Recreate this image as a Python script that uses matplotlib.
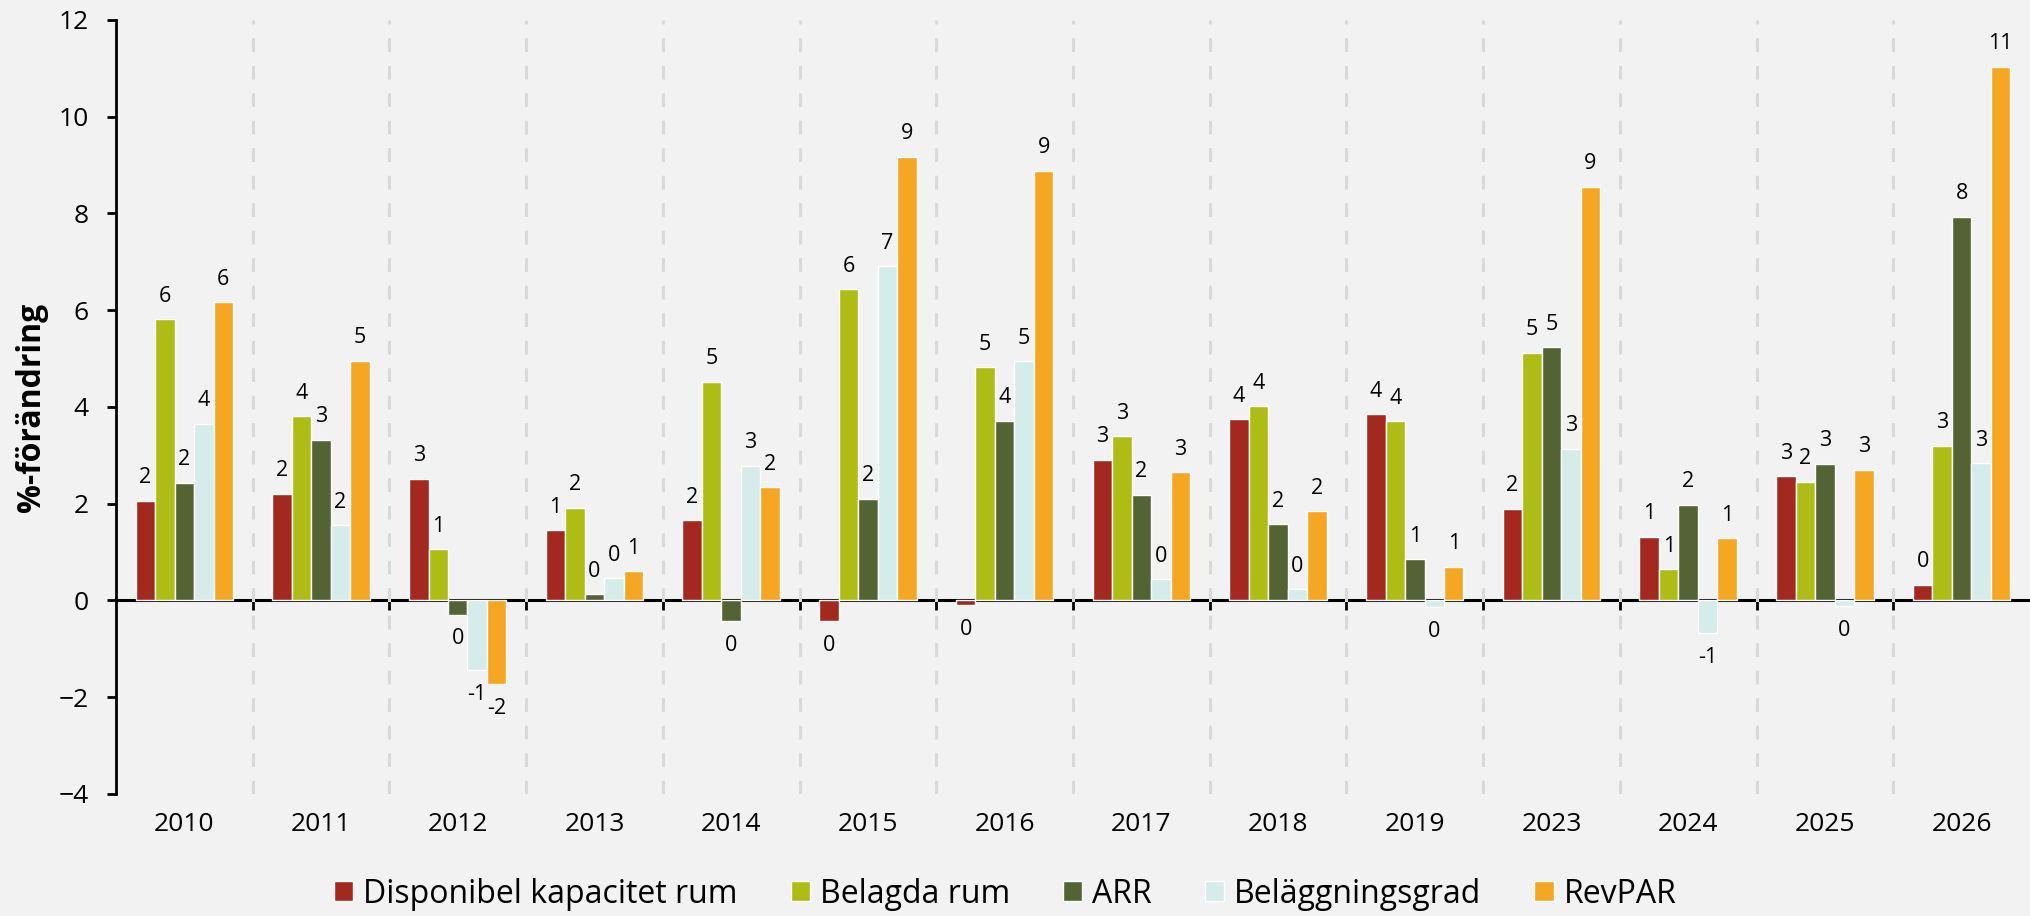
import numpy as np
import matplotlib.pyplot as plt
from matplotlib.patches import Patch

plt.rcParams['font.family'] = ['Open Sans', 'DejaVu Sans']

years = ['2010', '2011', '2012', '2013', '2014', '2015', '2016',
         '2017', '2018', '2019', '2023', '2024', '2025', '2026']

series_names = ['Disponibel kapacitet rum', 'Belagda rum', 'ARR',
                'Beläggningsgrad', 'RevPAR']

disponibel = [2.06, 2.21, 2.52, 1.45, 1.66, -0.43, -0.09, 2.91, 3.75, 3.85, 1.90, 1.32, 2.57, 0.33]
belagda = [5.81, 3.81, 1.06, 1.92, 4.52, 6.43, 4.82, 3.39, 4.01, 3.70, 5.12, 0.65, 2.45, 3.20]
arr = [2.43, 3.32, -0.29, 0.13, -0.43, 2.10, 3.72, 2.19, 1.58, 0.85, 5.23, 1.98, 2.83, 7.93]
belaggning = [3.65, 1.56, -1.43, 0.46, 2.79, 6.91, 4.95, 0.44, 0.23, -0.14, 3.14, -0.68, -0.12, 2.84]
revpar = [6.17, 4.96, -1.72, 0.60, 2.34, 9.17, 8.88, 2.65, 1.84, 0.70, 8.55, 1.29, 2.70, 11.03]

colors = ['#a3281f', '#aebd16', '#536334', '#d6eceb', '#f5a724']

data = [disponibel, belagda, arr, belaggning, revpar]

fig = plt.figure(figsize=(20.31, 9.16), dpi=100)
fig.patch.set_facecolor('#f2f2f2')
ax = fig.add_axes([0.0571, 0.1332, 0.9424, 0.8450])
ax.set_facecolor('#f2f2f2')

x = np.arange(len(years))
w = 0.1425
for i, (vals, col) in enumerate(zip(data, colors)):
    pos = x + (i - 2) * w
    ax.bar(pos, vals, width=w, color=col, edgecolor='white', linewidth=1, zorder=3)
    for xp, v in zip(pos, vals):
        lab = str(int(round(v)))
        if round(v) == 0:
            lab = '0'
        if v >= 0:
            ax.annotate(lab, (xp, v), xytext=(0, 9), textcoords='offset points',
                        ha='center', va='bottom', fontsize=15.5, zorder=4)
        else:
            ax.annotate(lab, (xp, v), xytext=(0, -10), textcoords='offset points',
                        ha='center', va='top', fontsize=15.5, zorder=4)

bounds = np.arange(len(years) - 1) + 0.5
ax.set_xlim(-0.5, len(years) - 0.5)
ax.set_ylim(-4, 12)
ax.set_yticks(np.arange(-4, 13, 2))
ax.set_xticks(x, years)
ax.set_xticks(bounds, minor=True)
ax.grid(which='minor', axis='x', color='#d9d9d9', linewidth=2.2,
        linestyle=(0, (4.5, 4.5)), zorder=1)
ax.tick_params(axis='x', which='both', length=0, labelsize=19, pad=13)
ax.tick_params(axis='y', length=6.5, width=2, labelsize=19, pad=13)

for s in ['top', 'right', 'bottom']:
    ax.spines[s].set_visible(False)
ax.spines['left'].set_linewidth(2)

# zero line with group separators as ticks
sec = ax.secondary_xaxis(0.25)
sec.set_xticks(bounds)
sec.tick_params(axis='x', length=7, width=2, labelbottom=False, labeltop=False)
sec.spines['bottom'].set_linewidth(2.2)
sec.spines['bottom'].set_zorder(5)

ax.set_ylabel('%-förändring', fontsize=23, fontweight='bold', labelpad=8)

handles = [Patch(facecolor=c, edgecolor='white', linewidth=1) for c in colors]
fig.legend(handles, series_names, loc='center', bbox_to_anchor=(0.495, 0.024),
           ncol=5, frameon=False, fontsize=23, handlelength=0.6, handleheight=0.6,
           handletextpad=0.31, columnspacing=1.66)

fig.savefig('out.png', dpi=100, facecolor=fig.get_facecolor())
